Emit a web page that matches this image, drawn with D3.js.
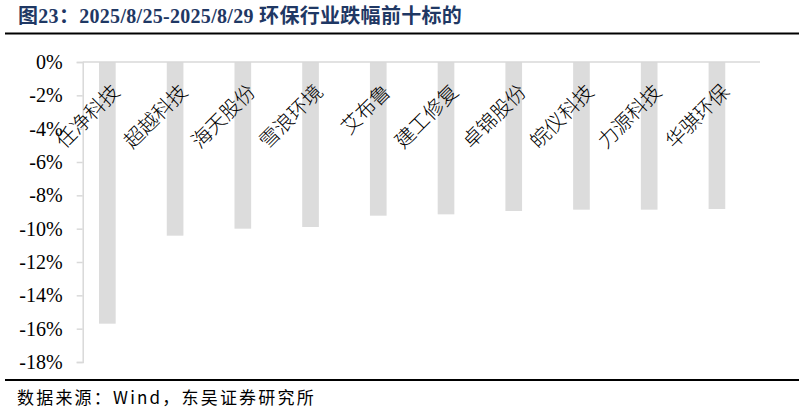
<!DOCTYPE html>
<html>
<head>
<meta charset="utf-8">
<script src="https://cdn.jsdelivr.net/npm/d3@7"></script>
<style>
  html, body { margin: 0; padding: 0; background: #fff; }
  svg { display: block; }
</style>
</head>
<body>
<svg id="chart" width="805" height="413"></svg>
<script>
const titleText = "图23：2025/8/25-2025/8/29 环保行业跌幅前十标的";
const sourceText = "数据来源：Wind，东吴证券研究所";
const categories = ["任净科技", "超越科技", "海天股份", "雪浪环境", "艾布鲁", "建工修复", "卓锦股份", "皖仪科技", "力源科技", "华骐环保"];
const values = [-15.70, -10.42, -10.00, -9.90, -9.22, -9.14, -8.94, -8.86, -8.86, -8.82];
const yTicks = [0, -2, -4, -6, -8, -10, -12, -14, -16, -18];

const svg = d3.select("#chart");
const plotLeft = 82.7, plotRight = 760, plotTop = 62, plotBottom = 362;

const x = d3.scaleBand().domain(categories).range([plotLeft, plotRight]).paddingInner(0).paddingOuter(0);
const y = d3.scaleLinear().domain([0, -18]).range([plotTop, plotBottom]);

// Title
svg.append("text")
  .attr("x", 18).attr("y", 23)
  .attr("font-family", "'Liberation Serif', 'Noto Sans CJK SC', serif")
  .attr("font-weight", "bold")
  .attr("font-size", 20)
  .attr("letter-spacing", 0.3)
  .attr("fill", "#1f3864")
  .text(titleText);

svg.append("line").attr("x1", 5).attr("x2", 799).attr("y1", 33.5).attr("y2", 33.5)
  .attr("stroke", "#000").attr("stroke-width", 2);
svg.append("line").attr("x1", 5).attr("x2", 799).attr("y1", 380).attr("y2", 380)
  .attr("stroke", "#000").attr("stroke-width", 2);

// Source
svg.append("text")
  .attr("x", 17).attr("y", 404)
  .attr("font-family", "'Noto Sans CJK SC', sans-serif")
  .attr("font-size", 17)
  .attr("letter-spacing", 2.2)
  .attr("fill", "#000")
  .text(sourceText);

// Bars
const step = x.step();
svg.append("g").selectAll("rect").data(values).join("rect")
  .attr("x", (d, i) => x(categories[i]) + step * 0.241)
  .attr("width", step * 0.246)
  .attr("y", d => y(0))
  .attr("height", d => y(d) - y(0))
  .attr("fill", "#dcdcdc");

// Zero line (category axis)
svg.append("line")
  .attr("x1", plotLeft).attr("x2", plotRight).attr("y1", y(0)).attr("y2", y(0))
  .attr("stroke", "#d9d9d9").attr("stroke-width", 1.5);

// Y axis
const yAxis = d3.axisLeft(y).tickValues(yTicks).tickSize(6).tickPadding(14)
  .tickFormat(d => d + "%");
const gy = svg.append("g").attr("transform", `translate(${plotLeft},0)`).call(yAxis);
gy.select(".domain").attr("stroke", "#d9d9d9").attr("stroke-width", 1.5);
gy.selectAll(".tick line").attr("stroke", "#d9d9d9").attr("stroke-width", 1.5);
gy.selectAll(".tick text")
  .attr("font-family", "'Liberation Serif', serif")
  .attr("font-size", 20)
  .attr("fill", "#000");

// Category labels
svg.append("g").selectAll("text").data(categories).join("text")
  .attr("transform", d => `translate(${x(d) + step / 2 + 4.5},93) rotate(-45)`)
  .attr("text-anchor", "end")
  .attr("font-family", "'Noto Sans CJK SC', sans-serif")
  .attr("font-weight", 300)
  .attr("font-size", 20)
  .attr("fill", "#000")
  .text(d => d);
</script>
</body>
</html>
